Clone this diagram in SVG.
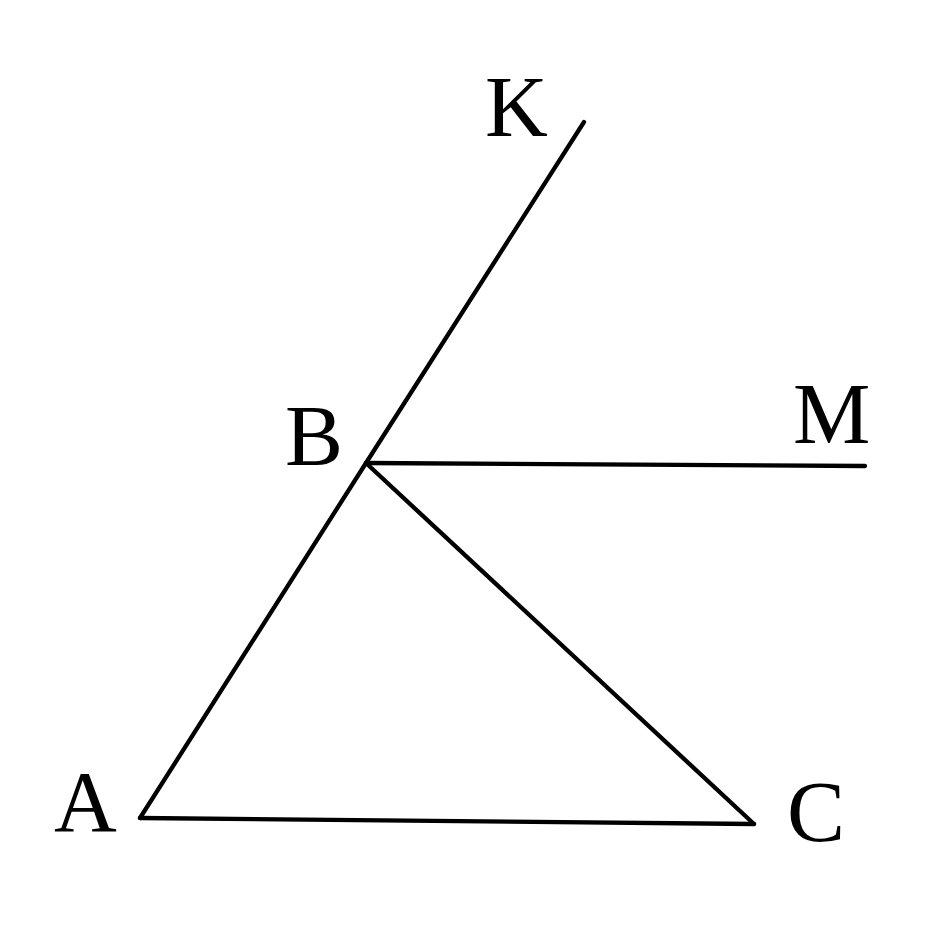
<svg xmlns="http://www.w3.org/2000/svg" width="940" height="940" viewBox="0 0 940 940">
<style>
.l{stroke:#000;stroke-width:4.3;fill:none;stroke-linecap:round;stroke-linejoin:round}
.t{font-family:"Liberation Serif","Times New Roman",serif;font-size:87px;fill:#000}
</style>
<rect width="940" height="940" fill="#fff"/>
<g id="connectors">
<path class="l" d="M140,818 L366,463 L584,122"/>
<path class="l" d="M366,463 L865,466"/>
<path class="l" d="M366,463 L754,824"/>
<path class="l" d="M140,818 L754,824"/>
</g>
<g id="A"><text class="t" x="54" y="831">A</text></g>
<g id="B"><text class="t" x="285" y="465">B</text></g>
<g id="C"><text class="t" x="787" y="841">C</text></g>
<g id="K"><text class="t" x="485" y="136">K</text></g>
<g id="M"><text class="t" x="793" y="443">M</text></g>
</svg>
